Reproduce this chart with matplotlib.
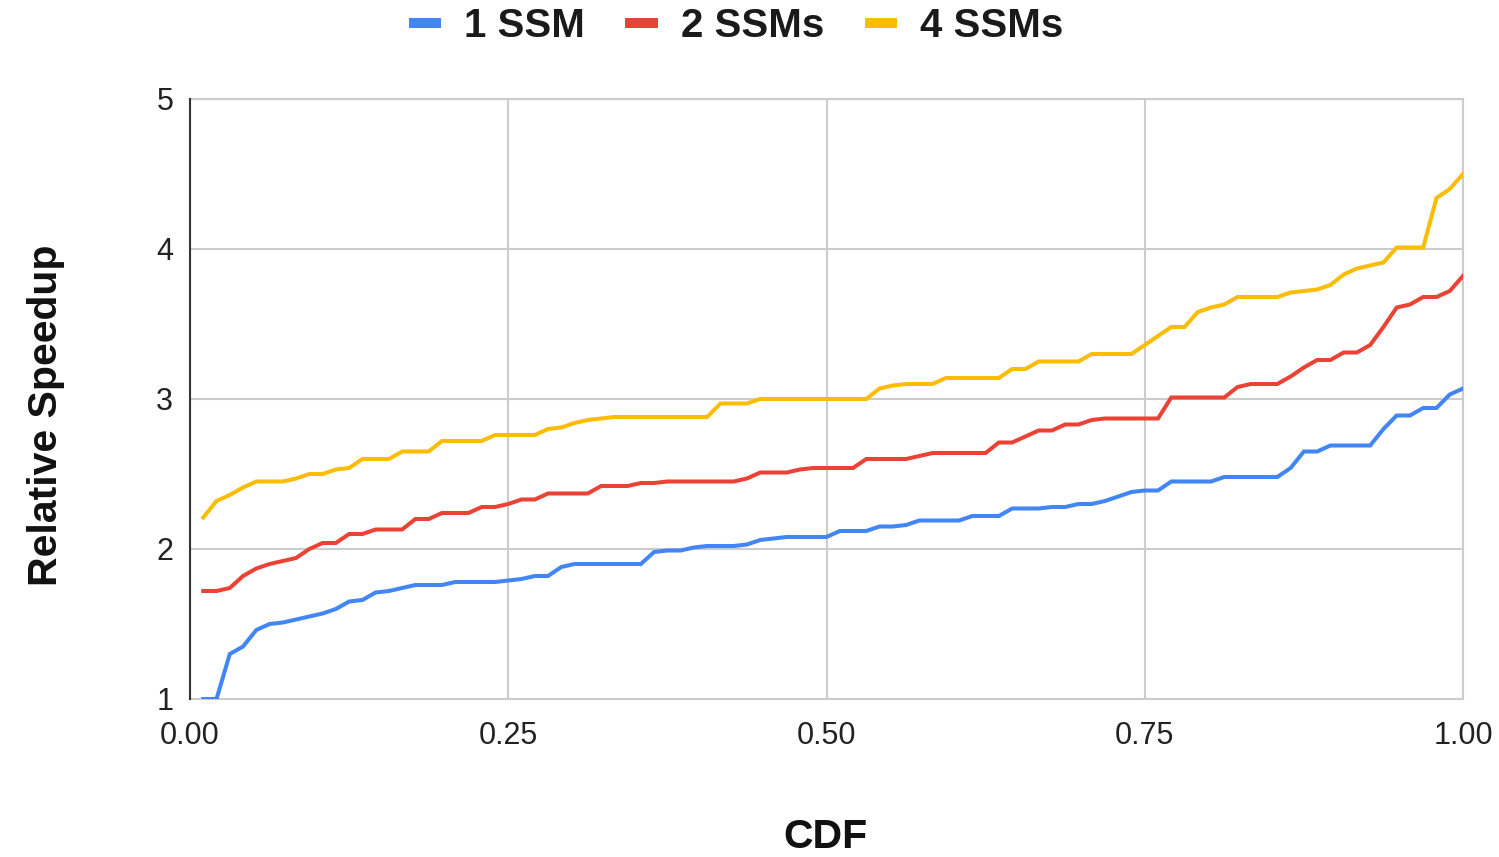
import numpy as np
import matplotlib
matplotlib.use("Agg")
import matplotlib.pyplot as plt
from matplotlib.lines import Line2D

plt.rcParams['font.family'] = ['Liberation Sans', 'DejaVu Sans']

# ---- data ----
series_names = ["1 SSM", "2 SSMs", "4 SSMs"]
series_colors = ["#4285F4", "#EA4335", "#FBBC04"]

ssm1 = [1.00, 1.00, 1.30, 1.35, 1.46, 1.50, 1.51, 1.53, 1.55, 1.57,
        1.60, 1.65, 1.66, 1.71, 1.72, 1.74, 1.76, 1.76, 1.76, 1.78,
        1.78, 1.78, 1.78, 1.79, 1.80, 1.82, 1.82, 1.88, 1.90, 1.90,
        1.90, 1.90, 1.90, 1.90, 1.98, 1.99, 1.99, 2.01, 2.02, 2.02,
        2.02, 2.03, 2.06, 2.07, 2.08, 2.08, 2.08, 2.08, 2.12, 2.12,
        2.12, 2.15, 2.15, 2.16, 2.19, 2.19, 2.19, 2.19, 2.22, 2.22,
        2.22, 2.27, 2.27, 2.27, 2.28, 2.28, 2.30, 2.30, 2.32, 2.35,
        2.38, 2.39, 2.39, 2.45, 2.45, 2.45, 2.45, 2.48, 2.48, 2.48,
        2.48, 2.48, 2.54, 2.65, 2.65, 2.69, 2.69, 2.69, 2.69, 2.80,
        2.89, 2.89, 2.94, 2.94, 3.03, 3.07]

ssm2 = [1.72, 1.72, 1.74, 1.82, 1.87, 1.90, 1.92, 1.94, 2.00, 2.04,
        2.04, 2.10, 2.10, 2.13, 2.13, 2.13, 2.20, 2.20, 2.24, 2.24,
        2.24, 2.28, 2.28, 2.30, 2.33, 2.33, 2.37, 2.37, 2.37, 2.37,
        2.42, 2.42, 2.42, 2.44, 2.44, 2.45, 2.45, 2.45, 2.45, 2.45,
        2.45, 2.47, 2.51, 2.51, 2.51, 2.53, 2.54, 2.54, 2.54, 2.54,
        2.60, 2.60, 2.60, 2.60, 2.62, 2.64, 2.64, 2.64, 2.64, 2.64,
        2.71, 2.71, 2.75, 2.79, 2.79, 2.83, 2.83, 2.86, 2.87, 2.87,
        2.87, 2.87, 2.87, 3.01, 3.01, 3.01, 3.01, 3.01, 3.08, 3.10,
        3.10, 3.10, 3.15, 3.21, 3.26, 3.26, 3.31, 3.31, 3.36, 3.48,
        3.61, 3.63, 3.68, 3.68, 3.72, 3.82]

ssm4 = [2.21, 2.32, 2.36, 2.41, 2.45, 2.45, 2.45, 2.47, 2.50, 2.50,
        2.53, 2.54, 2.60, 2.60, 2.60, 2.65, 2.65, 2.65, 2.72, 2.72,
        2.72, 2.72, 2.76, 2.76, 2.76, 2.76, 2.80, 2.81, 2.84, 2.86,
        2.87, 2.88, 2.88, 2.88, 2.88, 2.88, 2.88, 2.88, 2.88, 2.97,
        2.97, 2.97, 3.00, 3.00, 3.00, 3.00, 3.00, 3.00, 3.00, 3.00,
        3.00, 3.07, 3.09, 3.10, 3.10, 3.10, 3.14, 3.14, 3.14, 3.14,
        3.14, 3.20, 3.20, 3.25, 3.25, 3.25, 3.25, 3.30, 3.30, 3.30,
        3.30, 3.36, 3.42, 3.48, 3.48, 3.58, 3.61, 3.63, 3.68, 3.68,
        3.68, 3.68, 3.71, 3.72, 3.73, 3.76, 3.83, 3.87, 3.89, 3.91,
        4.01, 4.01, 4.01, 4.34, 4.40, 4.50]

cdf = [(i + 1) / len(ssm1) for i in range(len(ssm1))]

x_ticks = [0.0, 0.25, 0.5, 0.75, 1.0]
x_tick_labels = ["0.00", "0.25", "0.50", "0.75", "1.00"]
y_ticks = [1, 2, 3, 4, 5]
y_tick_labels = ["1", "2", "3", "4", "5"]

# ---- figure ----
W, H = 1499, 857
fig = plt.figure(figsize=(W / 100, H / 100), dpi=100)
ax = fig.add_axes([190 / W, (H - 699) / H, 1273 / W, 600 / H])

for vals, name, col in zip([ssm1, ssm2, ssm4], series_names, series_colors):
    ax.plot(cdf, vals, color=col, lw=2.9, label=name,
            solid_joinstyle='miter', zorder=3)

ax.set_xlim(0, 1)
ax.set_ylim(1, 5)
ax.set_xticks(x_ticks)
ax.set_xticklabels(x_tick_labels)
ax.set_yticks(y_ticks)
ax.set_yticklabels(y_tick_labels)
ax.tick_params(axis='both', length=0, labelsize=22, colors='#222222')
ax.tick_params(axis='x', pad=16)
ax.tick_params(axis='y', pad=12)
ax.grid(True, color='#cccccc', lw=1.5)
ax.set_axisbelow(True)
for s in ['top', 'right', 'bottom']:
    ax.spines[s].set_color('#cccccc')
    ax.spines[s].set_linewidth(1.5)
ax.spines['left'].set_color('#333333')
ax.spines['left'].set_linewidth(1.5)
ax.spines['left'].set_zorder(4)

fig.text(57 / W, 1 - 415.5 / H, "Relative Speedup", rotation=90,
         rotation_mode='anchor', ha='center', va='baseline',
         fontsize=29.5, fontweight='bold', color='#111111')
fig.text(826 / W, 1 - 848 / H, "CDF", ha='center', va='baseline',
         fontsize=29.5, fontweight='bold', color='#111111')

handles = [Line2D([0], [0], color=c, lw=7.2, solid_capstyle='butt')
           for c in series_colors]
leg = fig.legend(handles, series_names, loc='center',
                 bbox_to_anchor=(736 / W, 1 - 26 / H), ncol=3,
                 frameon=False, borderpad=0, handlelength=0.8,
                 handletextpad=0.58, columnspacing=1.0,
                 prop={'size': 29, 'weight': 'bold'})
for t in leg.get_texts():
    t.set_color('#1a1a1a')

fig.savefig("out.png", dpi=100)
